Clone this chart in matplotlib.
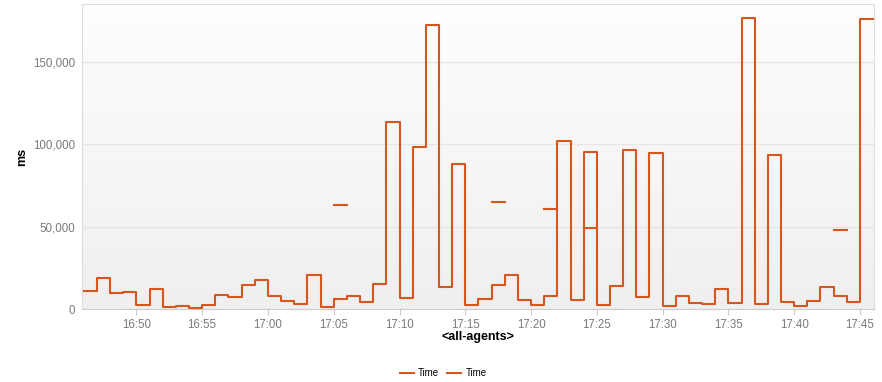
import numpy as np
import pandas as pd
import matplotlib
matplotlib.use("Agg")
import matplotlib.pyplot as plt
import matplotlib.dates as mdates
from matplotlib.ticker import FuncFormatter

plt.rcParams["font.family"] = ["Liberation Sans", "DejaVu Sans"]

# one value per minute, 16:46 .. 17:45
start = "2024-01-01 16:46"
time_ms = [11000, 19000, 9700, 10500, 2400, 11900, 1400, 2000, 800, 2200,
           8300, 7100, 14400, 17400, 7700, 5000, 2800, 20800, 1400, 6300,
           8100, 4200, 15300, 113500, 6500, 98400, 172100, 13500, 87700, 2400,
           5900, 14500, 20800, 5600, 2400, 8100, 102000, 5600, 95300, 2400,
           14100, 96500, 7300, 94500, 1600, 7900, 3600, 3000, 11900, 3600,
           176800, 3000, 93300, 4200, 1800, 4800, 13300, 7900, 4200, 175900]

# second series: only a few minutes have a value
extra_min = ["17:05", "17:17", "17:21", "17:24", "17:43"]
extra_ms = [63000, 65000, 60800, 49100, 47900]

color = "#d6561f"

times = pd.date_range(start, periods=len(time_ms) + 1, freq="min")
y1 = np.array(time_ms + [time_ms[-1]], dtype=float)

y2 = np.full(len(times), np.nan)
for m, v in zip(extra_min, extra_ms):
    idx = times.get_loc(pd.Timestamp("2024-01-01 " + m))
    y2[idx] = v

fig = plt.figure(figsize=(8.82, 3.82), dpi=100)
ax = fig.add_axes([82 / 882, 1 - 309 / 382, 792 / 882, 305 / 382])

# light gradient background
grad = np.linspace(1, 0, 256).reshape(-1, 1)
ax.imshow(grad, extent=[0, 1, 0, 1], transform=ax.transAxes, aspect="auto",
          cmap=matplotlib.colors.LinearSegmentedColormap.from_list("bg", ["#efefef", "#fefefe"]),
          zorder=0)

ax.step(times, y1, where="post", color=color, lw=1.5, label="Time", zorder=3)
ax.step(times, y2, where="post", color=color, lw=1.5, label="Time", zorder=3)

x0 = pd.Timestamp("2024-01-01 16:45:52")
x1 = pd.Timestamp("2024-01-01 17:46:04")
ax.set_xlim(x0, x1)
ax.set_ylim(0, 185000)

ax.set_yticks([0, 50000, 100000, 150000])
ax.yaxis.set_major_formatter(FuncFormatter(lambda v, p: f"{int(v):,}"))
ax.xaxis.set_major_locator(mdates.MinuteLocator(byminute=range(0, 60, 5)))
ax.xaxis.set_major_formatter(mdates.DateFormatter("%H:%M"))

ax.grid(axis="y", color="#e6e6e6", lw=1, zorder=1)
ax.tick_params(axis="y", length=0, labelsize=8.3, labelcolor="#7a7a7a", pad=5)
ax.tick_params(axis="x", length=4, width=0.8, color="#cccccc", labelsize=8.3,
               labelcolor="#7a7a7a", pad=3)

for s in ["top", "left", "right"]:
    ax.spines[s].set_color("#dddddd")
ax.spines["bottom"].set_color("#cccccc")

fig.text(22 / 882, 1 - 157 / 382, "ms", rotation=90, ha="center", va="center",
         fontsize=9, fontweight="bold")
fig.text(478 / 882, 1 - 337 / 382, "<all-agents>", ha="center", va="center",
         fontsize=9, fontweight="bold")

fig.legend(loc="center", bbox_to_anchor=(443 / 882, 1 - 373 / 382), ncol=2,
           frameon=False, fontsize=7, handlelength=1.5, handletextpad=0.4,
           columnspacing=0.8)

fig.savefig("out.png", dpi=100)
